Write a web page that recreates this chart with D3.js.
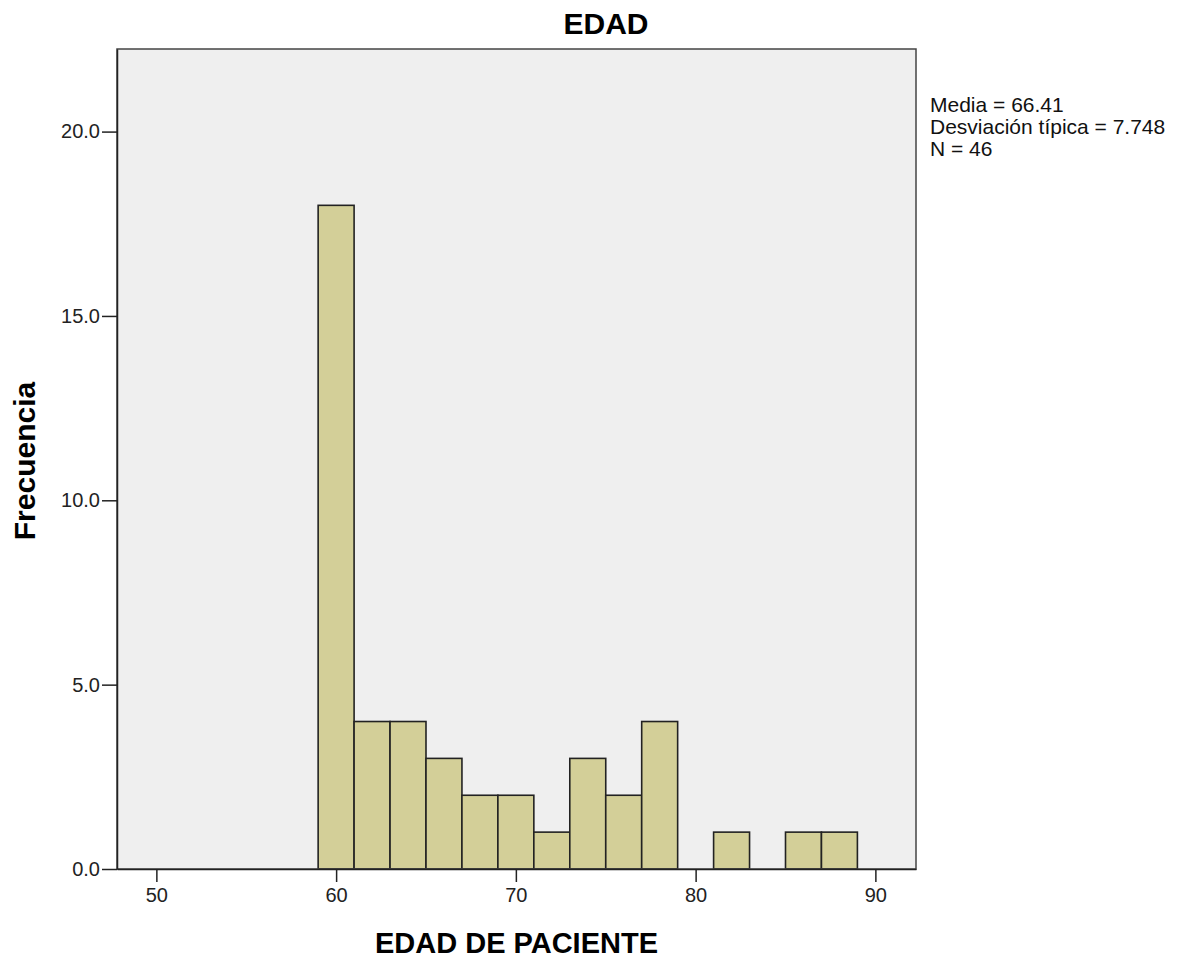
<!DOCTYPE html>
<html>
<head>
<meta charset="utf-8">
<script src="https://cdn.jsdelivr.net/npm/d3@7"></script>
<style>
  body { margin: 0; background: #fff; }
  text { font-family: Arial, "Liberation Sans", sans-serif; }
</style>
</head>
<body>
<div id="chart"></div>
<script>
// bins of width 2 (EDAD DE PACIENTE)
const binStarts = [59, 61, 63, 65, 67, 69, 71, 73, 75, 77, 79, 81, 83, 85, 87]
const counts    = [18, 4, 4, 3, 2, 2, 1, 3, 2, 4, 0, 1, 0, 1, 1]
const binWidth = 2
const xTicks = [50, 60, 70, 80, 90]
const yTicks = [0, 5, 10, 15, 20]
const stats = ['Media = 66.41', 'Desviación típica = 7.748', 'N = 46']

const width = 1179, height = 962
const margin = { left: 117, right: 263, top: 49, bottom: 93 }

const svg = d3.select('#chart').append('svg')
  .attr('width', width)
  .attr('height', height)

const x = d3.scaleLinear()
  .domain([47.81, 92.26])
  .range([margin.left, width - margin.right])

const y = d3.scaleLinear()
  .domain([0, 22.24])
  .range([height - margin.bottom, margin.top])

// plot background
svg.append('rect')
  .attr('x', margin.left)
  .attr('y', margin.top)
  .attr('width', width - margin.right - margin.left)
  .attr('height', height - margin.bottom - margin.top)
  .attr('fill', '#efefef')

const data = binStarts.map((s, i) => ({ x0: s, x1: s + binWidth, n: counts[i] }))

svg.append('g')
  .selectAll('rect')
  .data(data.filter(d => d.n > 0))
  .enter()
  .append('rect')
  .attr('x', d => x(d.x0))
  .attr('y', d => y(d.n))
  .attr('width', d => x(d.x1) - x(d.x0))
  .attr('height', d => y(0) - y(d.n))
  .attr('fill', '#d3cf98')
  .attr('stroke', '#222')
  .attr('stroke-width', 1.6)

// frame
svg.append('rect')
  .attr('x', margin.left)
  .attr('y', margin.top)
  .attr('width', width - margin.right - margin.left)
  .attr('height', height - margin.bottom - margin.top)
  .attr('fill', 'none')
  .attr('stroke', '#444')
  .attr('stroke-width', 1.5)

const xAxis = svg.append('g')
  .attr('transform', `translate(0,${height - margin.bottom})`)
  .call(d3.axisBottom(x).tickValues(xTicks).tickSize(13).tickSizeOuter(0).tickPadding(6))

const yAxis = svg.append('g')
  .attr('transform', `translate(${margin.left},0)`)
  .call(d3.axisLeft(y).tickValues(yTicks).tickFormat(d3.format('.1f')).tickSize(15).tickSizeOuter(0).tickPadding(2))

;[xAxis, yAxis].forEach(a => {
  a.select('.domain').attr('stroke', '#222').attr('stroke-width', 1.5)
  a.selectAll('.tick line').attr('stroke', '#222').attr('stroke-width', 1.5)
  a.selectAll('.tick text')
    .attr('font-family', 'Arial, "Liberation Sans", sans-serif')
    .attr('font-size', 20)
    .attr('fill', '#222')
})

svg.append('text')
  .attr('x', 606)
  .attr('y', 34)
  .attr('text-anchor', 'middle')
  .attr('font-size', 30)
  .attr('font-weight', 'bold')
  .text('EDAD')

svg.append('text')
  .attr('x', (margin.left + width - margin.right) / 2)
  .attr('y', 953)
  .attr('text-anchor', 'middle')
  .attr('font-size', 29)
  .attr('font-weight', 'bold')
  .text('EDAD DE PACIENTE')

svg.append('text')
  .attr('transform', 'translate(35,461) rotate(-90)')
  .attr('text-anchor', 'middle')
  .attr('font-size', 30)
  .attr('font-weight', 'bold')
  .text('Frecuencia')

svg.append('g')
  .selectAll('text')
  .data(stats)
  .enter()
  .append('text')
  .attr('x', 930)
  .attr('y', (d, i) => 112 + i * 22)
  .attr('font-size', 21)
  .attr('fill', '#111')
  .text(d => d)
</script>
</body>
</html>
